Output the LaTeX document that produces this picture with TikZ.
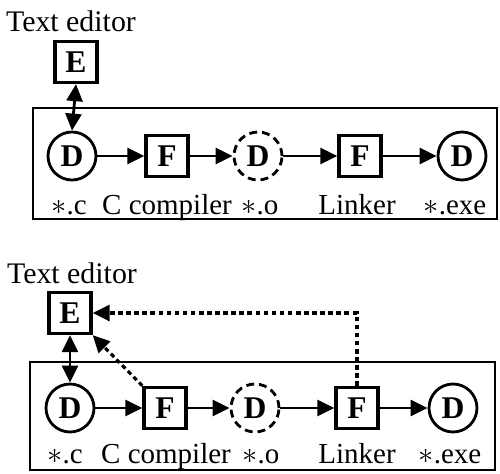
\documentclass[tikz,border=0pt]{standalone}
\usepackage{fontspec}
\setmainfont{Liberation Serif}
\usetikzlibrary{arrows.meta}
\tikzset{
  txt/.style={font=\fontsize{17}{19}\selectfont, inner sep=0pt},
  lbl/.style={font=\fontsize{16.5}{19}\selectfont, inner sep=0pt, anchor=base},
  fbox/.style={draw, line width=1.9pt, minimum width=0.84cm, minimum height=0.82cm,
    inner sep=0pt, font=\fontsize{18}{20}\selectfont\bfseries},
  dcirc/.style={draw, circle, line width=1.6pt, minimum size=0.96cm, inner sep=0pt,
    font=\fontsize{18}{20}\selectfont\bfseries},
  tmpcirc/.style={dcirc, dash pattern=on 4.5pt off 2.8pt},
  frame/.style={draw, line width=1pt},
  tip/.tip={Triangle[length=3.4mm,width=3.2mm]},
  flow/.style={line width=1.6pt, -tip},
  both/.style={line width=1.6pt, tip-tip},
  back/.style={line width=1.8pt, dash pattern=on 2.6pt off 2pt, -tip},
}
\newcommand{\ext}[1]{$\ast$#1}
\begin{document}
\begin{tikzpicture}[x=0.02cm, y=-0.02cm]
\useasboundingbox (0,0) rectangle (500,473);

% ---- edit, compile, link ----
\node[txt] (te1) at (71,21) {Text editor};
\node[fbox] (E1) at (76,62) {E};
\draw[frame] (33,108) rectangle (497,219);
\node[dcirc] (D1) at (72,156) {D};
\node[fbox] (F1) at (167,156) {F};
\node[tmpcirc] (O1) at (258,156) {D};
\node[fbox] (F2) at (360,156) {F};
\node[dcirc] (X1) at (462,156) {D};
\draw[both] (E1.south) -- (D1.north);
\draw[flow] (D1) -- (F1);
\draw[flow] (F1) -- (O1);
\draw[flow] (O1) -- (F2);
\draw[flow] (F2) -- (X1);
\node[lbl] (l1) at (69,214) {\ext{.c}};
\node[lbl] (l2) at (167,214) {C compiler};
\node[lbl] (l3) at (260,214) {\ext{.o}};
\node[lbl] (l4) at (357,214) {Linker};
\node[lbl] (l5) at (455,214) {\ext{.exe}};

% ---- same chain, with errors reported back to the editor ----
\node[txt] (te2) at (72,273) {Text editor};
\node[fbox] (E2) at (70,313) {E};
\draw[frame] (30,362) rectangle (495,470);
\node[dcirc] (D2) at (70,408) {D};
\node[fbox] (F3) at (165,408) {F};
\node[tmpcirc] (O2) at (255,408) {D};
\node[fbox] (F4) at (357,408) {F};
\node[dcirc] (X2) at (453,408) {D};
\draw[both] (E2.south) -- (D2.north);
\draw[flow] (D2) -- (F3);
\draw[flow] (F3) -- (O2);
\draw[flow] (O2) -- (F4);
\draw[flow] (F4) -- (X2);
\coordinate (turn) at (F4.north |- E2.east);
\draw[back] (F4.north) -- (turn) -- (E2.east);
\draw[back] (F3.north west) -- (E2.south east);
\node[lbl] (m1) at (65,463) {\ext{.c}};
\node[lbl] (m2) at (166,463) {C compiler};
\node[lbl] (m3) at (261,463) {\ext{.o}};
\node[lbl] (m4) at (357,463) {Linker};
\node[lbl] (m5) at (450,463) {\ext{.exe}};
\end{tikzpicture}
\end{document}
